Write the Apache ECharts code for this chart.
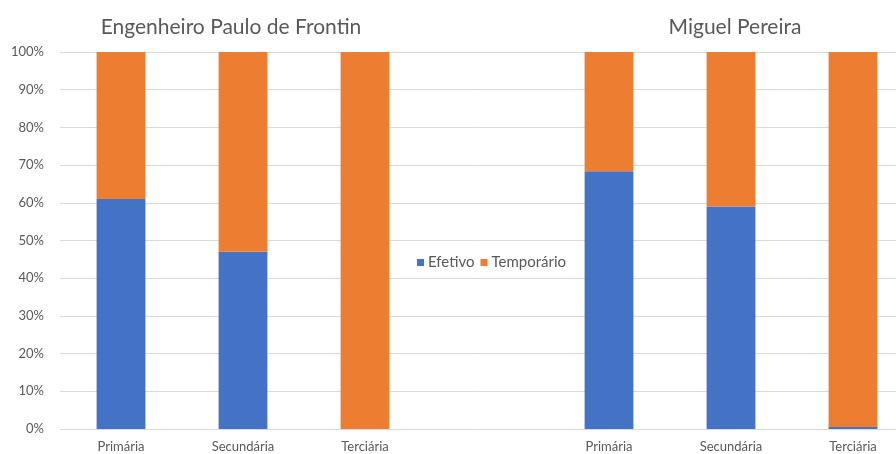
<!DOCTYPE html>
<html>
<head>
<meta charset="utf-8">
<script src="https://cdn.jsdelivr.net/npm/echarts@6/dist/echarts.min.js"></script>
<style>
  html, body { margin: 0; padding: 0; background: #fff; }
  #chart { width: 896px; height: 454px; }
</style>
</head>
<body>
<div id="chart"></div>
<script>
var categories = ['Primária', 'Secundária', 'Terciária', '', 'Primária', 'Secundária', 'Terciária']
var efetivo = [61, 47, 0, null, 68.4, 59, 0.5]
var temporario = [39, 53, 100, null, 31.6, 41, 99.5]
var yTicks = [0, 10, 20, 30, 40, 50, 60, 70, 80, 90, 100]
var groupTitles = ['Engenheiro Paulo de Frontin', 'Miguel Pereira']

var textColor = '#595959'
var font = 'Lato'

var chart = echarts.init(document.getElementById('chart'))
chart.setOption({
  animation: false,
  title: [{
    text: groupTitles[0],
    left: 226,
    top: 12,
    textAlign: 'center',
    textStyle: { color: textColor, fontSize: 21, fontWeight: 'normal', fontFamily: font }
  }, {
    text: groupTitles[1],
    left: 730,
    top: 12,
    textAlign: 'center',
    textStyle: { color: textColor, fontSize: 21, fontWeight: 'normal', fontFamily: font }
  }],
  legend: {
    left: 412,
    top: 250,
    itemWidth: 7,
    itemHeight: 7,
    itemGap: 6,
    icon: 'rect',
    textStyle: { color: textColor, fontSize: 15, fontFamily: font, padding: [0, 0, 0, -1] },
    data: ['Efetivo', 'Temporário']
  },
  grid: { left: 60, top: 52, right: -18, bottom: 25, outerBoundsMode: 'none' },
  xAxis: {
    type: 'category',
    data: categories,
    axisLine: { show: false },
    axisTick: { show: false },
    axisLabel: { color: textColor, fontSize: 13, fontFamily: font, margin: 11 }
  },
  yAxis: {
    type: 'value',
    min: 0,
    max: 100,
    interval: 10,
    axisLabel: {
      color: textColor,
      fontSize: 13,
      fontFamily: font,
      margin: 16,
      formatter: function (v) { return yTicks.indexOf(v) >= 0 ? v + '%' : '' }
    },
    splitLine: { lineStyle: { color: '#d9d9d9', width: 1 } }
  },
  series: [{
    name: 'Efetivo',
    type: 'bar',
    stack: 'total',
    barWidth: '40%',
    itemStyle: { color: '#4472c4' },
    data: efetivo
  }, {
    name: 'Temporário',
    type: 'bar',
    stack: 'total',
    barWidth: '40%',
    itemStyle: { color: '#ed7d31' },
    data: temporario
  }]
})
</script>
</body>
</html>
